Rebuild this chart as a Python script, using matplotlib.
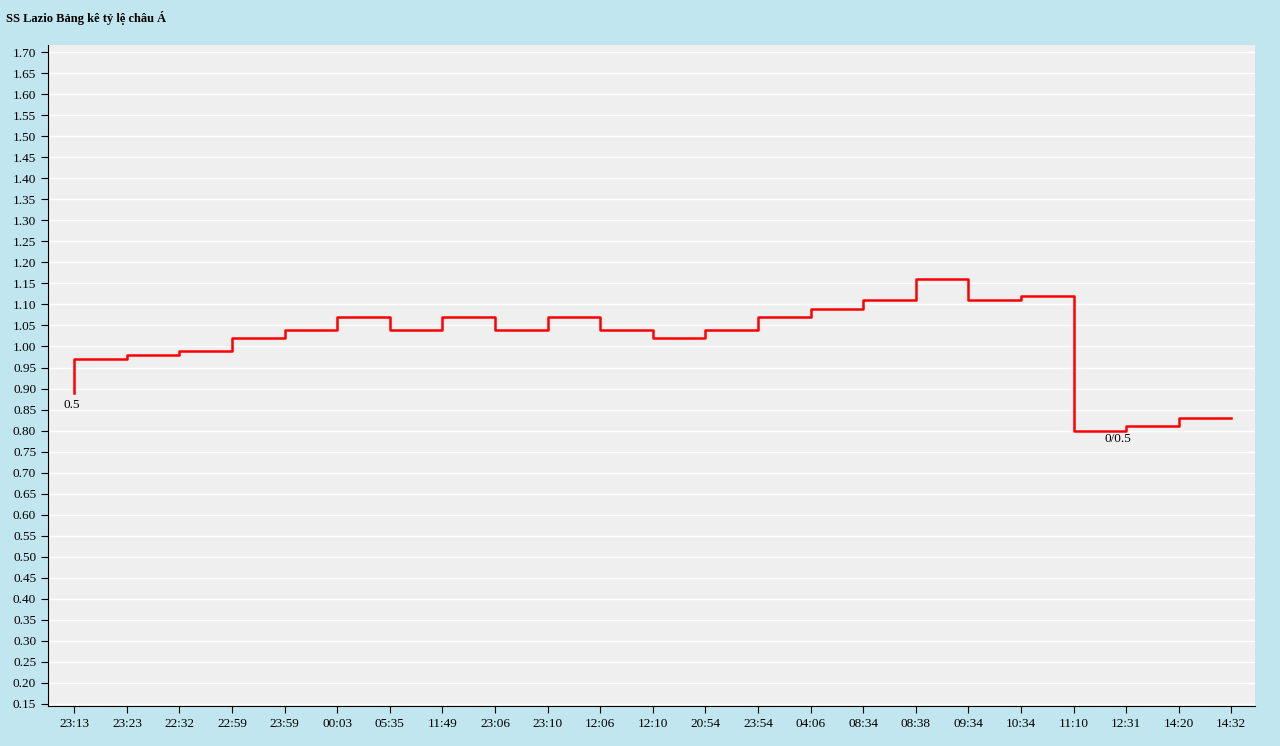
import matplotlib
matplotlib.use("Agg")
import matplotlib.pyplot as plt
import numpy as np

labels = ["23:13","23:23","22:32","22:59","23:59","00:03","05:35","11:49","23:06","23:10",
          "12:06","12:10","20:54","23:54","04:06","08:34","08:38","09:34","10:34","11:10",
          "12:31","14:20","14:32"]
start_value = 0.89
values = [0.97,0.98,0.99,1.02,1.04,1.07,1.04,1.07,1.04,1.07,1.04,1.02,1.04,1.07,1.09,1.11,
          1.16,1.11,1.12,0.80,0.81,0.83,0.83]
notes = [(-0.05, 0.86, "0.5"), (19.85, 0.78, "0/0.5")]

plt.rcParams['font.family'] = ['Liberation Serif', 'DejaVu Serif']
fig = plt.figure(figsize=(12.8, 7.46), dpi=100)
fig.patch.set_facecolor('#c2e6f0')
ax = fig.add_axes([48/1280, 1-706/746, (1255-48)/1280, (706-45)/746])
ax.set_facecolor('#efefef')

x = np.arange(len(labels))
xs = np.concatenate([[0], x])
ys = np.concatenate([[start_value], values])
ax.step(xs, ys, where='post', color='#ff0000', lw=1.8)

for xi, yi, t in notes:
    ax.text(xi, yi, t, ha='center', va='center', fontsize=9.5)

ax.set_xlim(-0.5, 22.45)
ax.set_ylim(0.145, 1.717)
yt = np.round(np.arange(0.15, 1.701, 0.05), 2)
ax.set_yticks(yt)
ax.set_yticklabels([f"{v:.2f}" for v in yt], fontsize=9.5)
ax.set_xticks(x)
ax.set_xticklabels(labels, fontsize=9.5)
ax.grid(axis='y', color='white', lw=1)
ax.set_axisbelow(True)
for s in ['top', 'right']:
    ax.spines[s].set_visible(False)
ax.tick_params(direction='out', length=5)
fig.text(6/1280, 1-18/746, "SS Lazio Bảng kê tỷ lệ châu Á", fontsize=9, fontweight='bold', va='center')
fig.savefig("out.png", dpi=100, facecolor=fig.get_facecolor())
